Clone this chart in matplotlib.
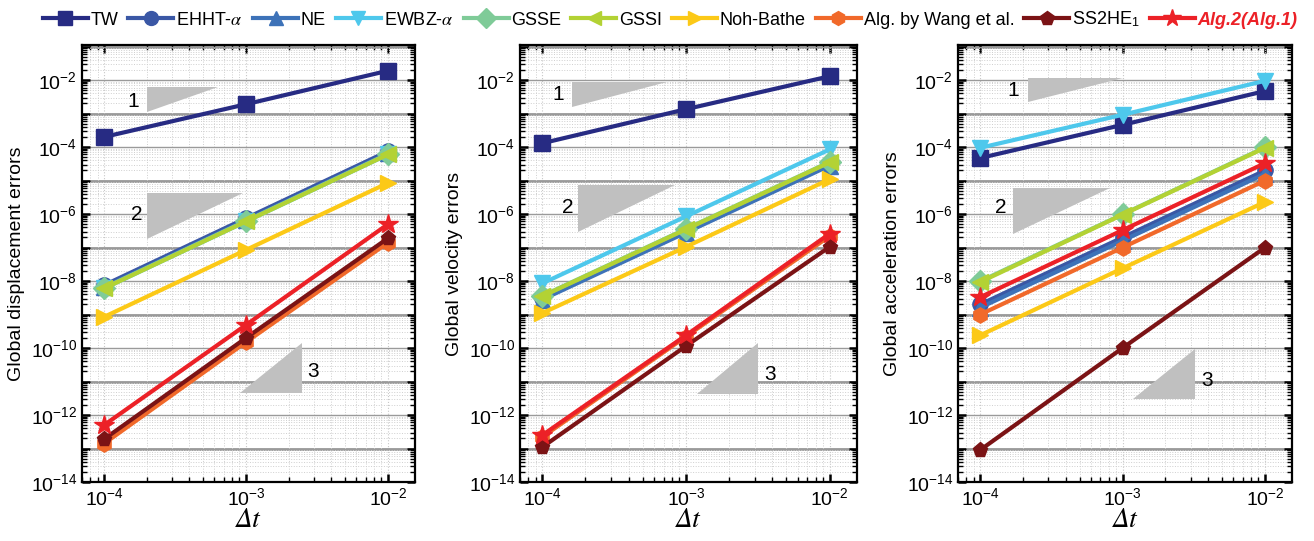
import matplotlib
matplotlib.use('Agg')
import math
import matplotlib.pyplot as plt
import matplotlib.ticker as mticker
from matplotlib.patches import Polygon
from matplotlib.lines import Line2D

plt.rcParams['font.family'] = ['Liberation Sans', 'DejaVu Sans']
plt.rcParams['mathtext.fontset'] = 'stix'

dt = [1e-4, 1e-3, 1e-2]

methods = ['TW', 'EHHT-$\\alpha$', 'NE', 'EWBZ-$\\alpha$', 'GSSE', 'GSSI', 'Noh-Bathe',
           'Alg. by Wang et al.', 'SS2HE$_{\\mathdefault{1}}$', 'Alg.2(Alg.1)']
colors = ['#272b83', '#3a57a5', '#3d72b8', '#4ec8ec', '#7fcb98', '#b3d234', '#fcc917',
          '#f1692a', '#7b1315', '#ec2127']
markers = ['s', 'o', '^', 'v', 'D', '<', '>', 'h', 'p', '*']

# errors per method at dt = 1e-4, 1e-3, 1e-2
disp_err = [
    [2.0e-4, 1.9e-3, 1.9e-2],
    [7.5e-9, 7.5e-7, 7.5e-5],
    [6.5e-9, 6.5e-7, 6.5e-5],
    [6.0e-9, 6.0e-7, 6.0e-5],
    [6.2e-9, 6.2e-7, 6.2e-5],
    [6.0e-9, 6.0e-7, 6.0e-5],
    [8.5e-10, 8.5e-8, 8.5e-6],
    [1.4e-13, 1.5e-10, 1.4e-7],
    [1.9e-13, 2.0e-10, 1.9e-7],
    [5.0e-13, 4.9e-10, 5.0e-7],
]
vel_err = [
    [1.3e-4, 1.35e-3, 1.3e-2],
    [3.2e-9, 3.2e-7, 3.2e-5],
    [2.8e-9, 2.8e-7, 2.8e-5],
    [8.5e-9, 8.5e-7, 8.5e-5],
    [3.6e-9, 3.6e-7, 3.6e-5],
    [3.5e-9, 3.5e-7, 3.5e-5],
    [1.1e-9, 1.05e-7, 1.1e-5],
    [2.2e-13, 2.2e-10, 2.2e-7],
    [1.1e-13, 1.15e-10, 1.05e-7],
    [2.5e-13, 2.4e-10, 2.6e-7],
]
acc_err = [
    [4.7e-5, 4.6e-4, 4.7e-3],
    [2.0e-9, 2.0e-7, 2.0e-5],
    [1.6e-9, 1.6e-7, 1.6e-5],
    [9.5e-5, 9.2e-4, 9.5e-3],
    [9.8e-9, 9.8e-7, 9.8e-5],
    [9.3e-9, 9.6e-7, 9.5e-5],
    [2.4e-10, 2.4e-8, 2.3e-6],
    [1.0e-9, 1.0e-7, 1.0e-5],
    [9.0e-14, 1.0e-10, 1.0e-7],
    [3.3e-9, 3.3e-7, 3.3e-5],
]

ylabels = ['Global displacement errors', 'Global velocity errors', 'Global acceleration errors']
all_err = [disp_err, vel_err, acc_err]

# slope triangles (axes fraction) and labels
triangles = [
    [([(0.195, 0.847), (0.195, 0.904), (0.408, 0.904)], '1', (0.153, 0.870)),
     ([(0.195, 0.556), (0.195, 0.661), (0.483, 0.661)], '2', (0.165, 0.611)),
     ([(0.474, 0.204), (0.661, 0.204), (0.661, 0.318)], '3', (0.694, 0.252))],
    [([(0.154, 0.858), (0.154, 0.915), (0.436, 0.915)], '1', (0.113, 0.886)),
     ([(0.172, 0.572), (0.172, 0.680), (0.460, 0.680)], '2', (0.142, 0.627)),
     ([(0.525, 0.201), (0.706, 0.201), (0.706, 0.318)], '3', (0.742, 0.245))],
    [([(0.210, 0.870), (0.210, 0.924), (0.494, 0.924)], '1', (0.165, 0.895)),
     ([(0.165, 0.568), (0.165, 0.673), (0.455, 0.673)], '2', (0.129, 0.629)),
     ([(0.524, 0.190), (0.710, 0.190), (0.710, 0.304)], '3', (0.746, 0.233))],
]

fig = plt.figure(figsize=(13.14, 5.41), dpi=100)
positions = [[0.0624, 0.109, 0.2534, 0.808],
             [0.3957, 0.109, 0.2565, 0.808],
             [0.7291, 0.109, 0.2542, 0.808]]


def y_fmt(v, pos):
    e = int(round(math.log10(v)))
    if e % 2 != 0:
        return ''
    return '$\\mathdefault{10^{%d}}$' % e


for k, pos in enumerate(positions):
    ax = fig.add_axes(pos)
    ax.set_xscale('log')
    ax.set_yscale('log')
    ax.set_xlim(10 ** -4.155, 10 ** -1.81)
    ax.set_ylim(1e-14, 10 ** -0.95)

    # grid
    ax.yaxis.set_major_locator(mticker.LogLocator(base=10, numticks=30))
    ax.yaxis.set_minor_locator(mticker.LogLocator(base=10, subs=range(2, 10), numticks=30))
    ax.yaxis.set_major_formatter(mticker.FuncFormatter(y_fmt))
    ax.yaxis.set_minor_formatter(mticker.NullFormatter())
    ax.grid(True, which='minor', color='#cfcfcf', linestyle=':', linewidth=0.7)
    ax.grid(True, which='major', axis='x', color='#c8c8c8', linestyle=':', linewidth=0.8)
    ax.grid(True, which='major', axis='y', color='#9a9a9a', linestyle='-', linewidth=1.0)
    for e in range(-13, 0, 2):
        ax.axhline(10.0 ** e, color='#9a9a9a', linewidth=2.0, zorder=0.5)
    ax.set_axisbelow(True)

    ax.tick_params(which='both', direction='in', top=True, right=True, labelsize=14)
    ax.tick_params(which='major', length=6, width=1.8)
    ax.tick_params(which='minor', length=3.5, width=1.0)
    for s in ax.spines.values():
        s.set_linewidth(1.6)

    for tri, lab, lpos in triangles[k]:
        ax.add_patch(Polygon(tri, closed=True, transform=ax.transAxes,
                             facecolor='#c0c0c0', edgecolor='none', zorder=1.5))
        ax.text(lpos[0], lpos[1], lab, transform=ax.transAxes, fontsize=15,
                ha='center', va='center')

    errs = all_err[k]
    for i in range(len(methods)):
        ms = 15 if markers[i] == '*' else 11
        ax.plot(dt, errs[i], color=colors[i], marker=markers[i], markersize=ms,
                linewidth=3, zorder=3)

    ax.set_ylabel(ylabels[k], fontsize=14)
    ax.set_xlabel('\u0394t', fontsize=20, family='STIXGeneral', style='italic', labelpad=0)

handles = [Line2D([], [], color=colors[i], marker=markers[i], linewidth=3,
                  markersize=13 if markers[i] == '*' else 10) for i in range(len(methods))]
leg = fig.legend(handles, methods, loc='upper center', bbox_to_anchor=(0.51, 1.012),
                 ncol=10, frameon=False, fontsize=13, handlelength=2.5,
                 handletextpad=0.15, columnspacing=0.55)
last = leg.get_texts()[-1]
last.set_color('#ec2127')
last.set_fontweight('bold')
last.set_fontstyle('italic')

fig.savefig('out.png', dpi=100)
